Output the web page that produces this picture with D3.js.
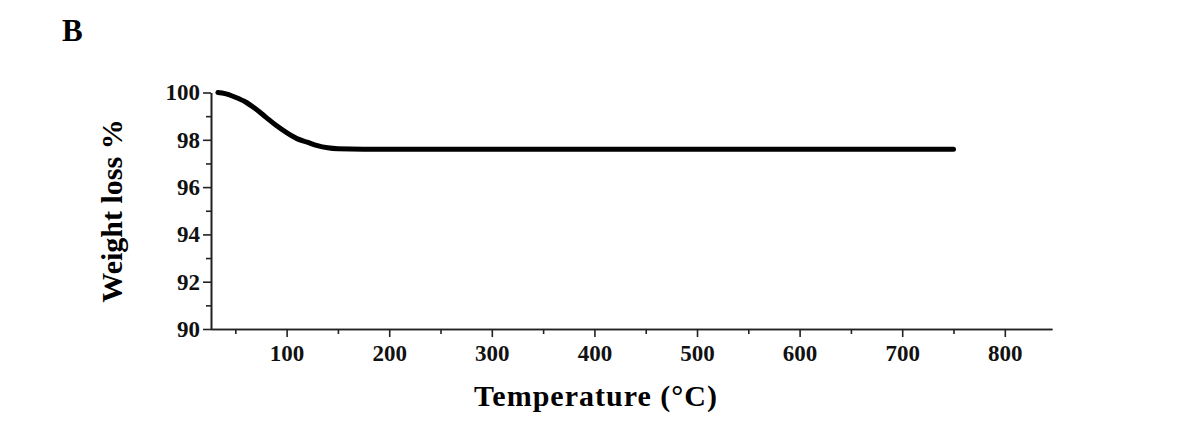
<!DOCTYPE html>
<html><head><meta charset="utf-8">
<script src="https://cdn.jsdelivr.net/npm/d3@7"></script>
<style>body{margin:0;background:#fff}</style>
</head><body><div id="chart"></div>
<script>
var temps = [33, 40, 50, 60, 70, 80, 90, 100, 110, 120, 130, 140, 150, 175, 200, 300, 400, 500, 600, 700, 750];
var weights = [100, 99.95, 99.8, 99.6, 99.3, 98.95, 98.6, 98.3, 98.05, 97.9, 97.75, 97.66, 97.62, 97.6, 97.6, 97.6, 97.6, 97.6, 97.6, 97.6, 97.6];
var xTicks = [100, 200, 300, 400, 500, 600, 700, 800];
var yTicks = [90, 92, 94, 96, 98, 100];

var svg = d3.select("#chart").append("svg").attr("width", 1178).attr("height", 436)
    .style("font-family", "'Liberation Serif', serif").style("font-weight", "bold");

var x = d3.scaleLinear().domain([26, 846]).range([210.7, 1052]);
var y = d3.scaleLinear().domain([90, 100]).range([329, 92.5]);

svg.append("g").attr("transform", "translate(0,329)")
    .call(d3.axisBottom(x).tickValues(xTicks).tickSize(8).tickPadding(8).tickSizeOuter(0));
svg.append("g").attr("transform", "translate(0,329)")
    .call(d3.axisBottom(x).tickValues(d3.range(50, 850, 100)).tickSize(5).tickFormat("").tickSizeOuter(0));
svg.append("g").attr("transform", "translate(211,0)")
    .call(d3.axisLeft(y).tickValues(yTicks).tickSize(8).tickPadding(3).tickSizeOuter(0));
svg.append("g").attr("transform", "translate(211,0)")
    .call(d3.axisLeft(y).tickValues([91, 93, 95, 97, 99]).tickSize(5).tickFormat("").tickSizeOuter(0));

svg.selectAll(".domain, .tick line").attr("stroke", "#222").attr("stroke-width", 1.6);
svg.selectAll(".tick text").attr("fill", "#111").style("font-size", "23px").style("font-weight", "bold")
    .style("font-family", "'Liberation Serif', serif");

svg.append("path").datum(temps.map(function(t, i) { return [t, weights[i]]; }))
    .attr("fill", "none").attr("stroke", "#000").attr("stroke-width", 5).attr("stroke-linecap", "round")
    .attr("d", d3.line().x(function(d) { return x(d[0]); }).y(function(d) { return y(d[1]); }).curve(d3.curveMonotoneX));

svg.append("text").attr("x", 596).attr("y", 406).attr("text-anchor", "middle")
    .style("font-size", "30px").style("letter-spacing", "1px").text("Temperature (°C)");
svg.append("text").attr("transform", "translate(122,211) rotate(-90)").attr("text-anchor", "middle")
    .style("font-size", "30px").text("Weight loss %");
svg.append("text").attr("x", 62).attr("y", 41).style("font-size", "31px").text("B");
</script></body></html>
